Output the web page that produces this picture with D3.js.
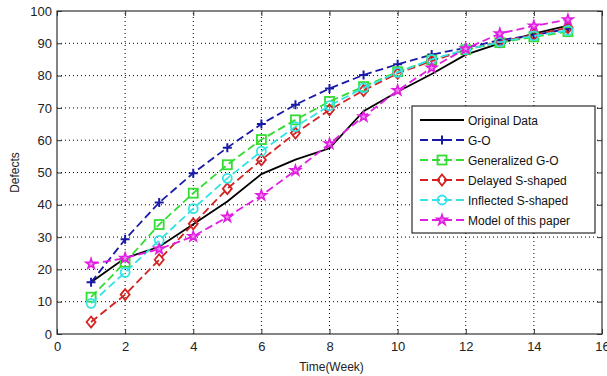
<!DOCTYPE html>
<html>
<head>
<meta charset="utf-8">
<script src="https://cdn.jsdelivr.net/npm/d3@7"></script>
<style>
  body { margin: 0; background: #fff; }
  svg { display: block; font-family: "Liberation Sans", Arial, sans-serif; }
</style>
</head>
<body>
<div id="chart"></div>
<script>
// weeks 1..15
const weeks = [1, 2, 3, 4, 5, 6, 7, 8, 9, 10, 11, 12, 13, 14, 15];

const originalData = [16, 23.5, 27, 34, 41, 49.5, 54, 57.5, 69, 75, 80.5, 86.5, 90, 93, 95.5];
const goModel = [16, 29.3, 40.7, 49.8, 57.7, 65, 71, 76, 80.2, 83.5, 86.5, 88.6, 91, 92.5, 94.5];
const genGoModel = [11.4, 22.2, 33.9, 43.6, 52.4, 60.2, 66.3, 72, 76.6, 81.2, 84.8, 88, 90.2, 92, 93.6];
const delayedS = [3.7, 12.2, 23, 34.1, 45, 53.9, 62.2, 69.4, 75.4, 80.7, 84.5, 88, 90.5, 92.6, 94.8];
const inflectedS = [9.5, 19.1, 29, 38.8, 48.2, 56.6, 64.2, 70.7, 76.2, 81, 85, 88, 90.4, 92.3, 94];
const thisPaper = [21.7, 23.5, 26.3, 30.2, 36.2, 42.9, 50.6, 58.9, 67.3, 75.4, 82.4, 88.3, 93, 95.4, 97.3];

const xTicks = [0, 2, 4, 6, 8, 10, 12, 14, 16];
const yTicks = [0, 10, 20, 30, 40, 50, 60, 70, 80, 90, 100];

const series = [
  { name: 'Original Data', values: originalData, color: '#000000', dash: null, marker: null },
  { name: 'G-O', values: goModel, color: '#1a1aa8', dash: '8,4', marker: 'plus' },
  { name: 'Generalized G-O', values: genGoModel, color: '#33dd33', dash: '8,4', marker: 'square' },
  { name: 'Delayed S-shaped', values: delayedS, color: '#d42222', dash: '8,4', marker: 'diamond' },
  { name: 'Inflected S-shaped', values: inflectedS, color: '#33e4e4', dash: '8,4', marker: 'circle' },
  { name: 'Model of this paper', values: thisPaper, color: '#e01ee0', dash: '8,4', marker: 'star' }
];

const width = 607, height = 376;
const margin = { left: 57, right: 5, top: 11, bottom: 42 };

const svg = d3.select('#chart').append('svg').attr('width', width).attr('height', height);

const x = d3.scaleLinear().domain([0, 16]).range([margin.left, width - margin.right]);
const y = d3.scaleLinear().domain([0, 100]).range([height - margin.bottom, margin.top]);

const x0 = x(0), x1 = x(16), y0 = y(0), y1 = y(100);

// dotted grid
const grid = svg.append('g').attr('stroke', '#000').attr('stroke-width', 1).attr('stroke-dasharray', '1,3');
xTicks.slice(1, -1).forEach(t => {
  grid.append('line').attr('x1', x(t)).attr('x2', x(t)).attr('y1', y0).attr('y2', y1);
});
yTicks.slice(1, -1).forEach(t => {
  grid.append('line').attr('x1', x0).attr('x2', x1).attr('y1', y(t)).attr('y2', y(t));
});

// axes (ticks pointing inward)
const axColor = '#333';
const tickLen = 5;
svg.append('g').attr('transform', `translate(0,${y0})`)
  .call(d3.axisBottom(x).tickValues(xTicks).tickSizeInner(-tickLen).tickSizeOuter(0).tickPadding(8))
  .call(g => g.select('.domain').remove());
svg.append('g').attr('transform', `translate(0,${y1})`)
  .call(d3.axisTop(x).tickValues(xTicks).tickSizeInner(-tickLen).tickSizeOuter(0).tickFormat(''))
  .call(g => g.select('.domain').remove());
svg.append('g').attr('transform', `translate(${x0},0)`)
  .call(d3.axisLeft(y).tickValues(yTicks).tickSizeInner(-tickLen).tickSizeOuter(0).tickPadding(5))
  .call(g => g.select('.domain').remove());
svg.append('g').attr('transform', `translate(${x1},0)`)
  .call(d3.axisRight(y).tickValues(yTicks).tickSizeInner(-tickLen).tickSizeOuter(0).tickFormat(''))
  .call(g => g.select('.domain').remove());

svg.selectAll('.tick line').attr('stroke', axColor);
svg.selectAll('.tick text').attr('fill', '#222').style('font-size', '13px');

svg.append('rect')
  .attr('x', x0).attr('y', y1).attr('width', x1 - x0).attr('height', y0 - y1)
  .attr('fill', 'none').attr('stroke', axColor).attr('stroke-width', 1.2);

// axis labels
svg.append('text').attr('x', (x0 + x1) / 2 + 2).attr('y', 371)
  .attr('text-anchor', 'middle').style('font-size', '12px').attr('fill', '#222').text('Time(Week)');
svg.append('text').attr('transform', `translate(19,${(y0 + y1) / 2}) rotate(-90)`)
  .attr('text-anchor', 'middle').style('font-size', '12px').attr('fill', '#222').text('Defects');

function drawMarker(g, type, cx, cy, color) {
  const s = 4.5;
  if (type === 'plus') {
    g.append('path').attr('d', `M${cx - s},${cy}H${cx + s}M${cx},${cy - s}V${cy + s}`)
      .attr('stroke', color).attr('stroke-width', 2).attr('fill', 'none');
  } else if (type === 'square') {
    g.append('rect').attr('x', cx - s).attr('y', cy - s).attr('width', 2 * s).attr('height', 2 * s)
      .attr('stroke', color).attr('stroke-width', 1.8).attr('fill', 'none');
  } else if (type === 'diamond') {
    g.append('path').attr('d', `M${cx},${cy - s - 1}L${cx + s},${cy}L${cx},${cy + s + 1}L${cx - s},${cy}Z`)
      .attr('stroke', color).attr('stroke-width', 1.8).attr('fill', 'none');
  } else if (type === 'circle') {
    g.append('circle').attr('cx', cx).attr('cy', cy).attr('r', s)
      .attr('stroke', color).attr('stroke-width', 1.8).attr('fill', 'none');
  } else if (type === 'star') {
    g.append('path').attr('d', d3.symbol(d3.symbolStar, 32)())
      .attr('transform', `translate(${cx},${cy})`)
      .attr('stroke', color).attr('stroke-width', 1.6).attr('fill', '#f08cf0');
  }
}

const line = d3.line().x((d, i) => x(weeks[i])).y(d => y(d));

const plot = svg.append('g');
series.forEach(s => {
  const g = plot.append('g');
  g.append('path').datum(s.values).attr('d', line)
    .attr('fill', 'none').attr('stroke', s.color).attr('stroke-width', 1.8)
    .attr('stroke-dasharray', s.dash);
  if (s.marker) {
    s.values.forEach((v, i) => drawMarker(g, s.marker, x(weeks[i]), y(v), s.color));
  }
});

// legend
const lg = svg.append('g');
const lx = 412, ly = 106, lw = 183, lh = 127;
lg.append('rect').attr('x', lx).attr('y', ly).attr('width', lw).attr('height', lh)
  .attr('fill', '#fff').attr('stroke', '#000').attr('stroke-width', 1);
series.forEach((s, i) => {
  const yy = ly + 14 + i * 20;
  lg.append('line').attr('x1', lx + 8).attr('x2', lx + 52).attr('y1', yy).attr('y2', yy)
    .attr('stroke', s.color).attr('stroke-width', 1.8).attr('stroke-dasharray', s.dash);
  if (s.marker) drawMarker(lg, s.marker, lx + 30, yy, s.color);
  lg.append('text').attr('x', lx + 56).attr('y', yy + 4.5)
    .style('font-size', '12px').attr('fill', '#111').text(s.name);
});
</script>
</body>
</html>
